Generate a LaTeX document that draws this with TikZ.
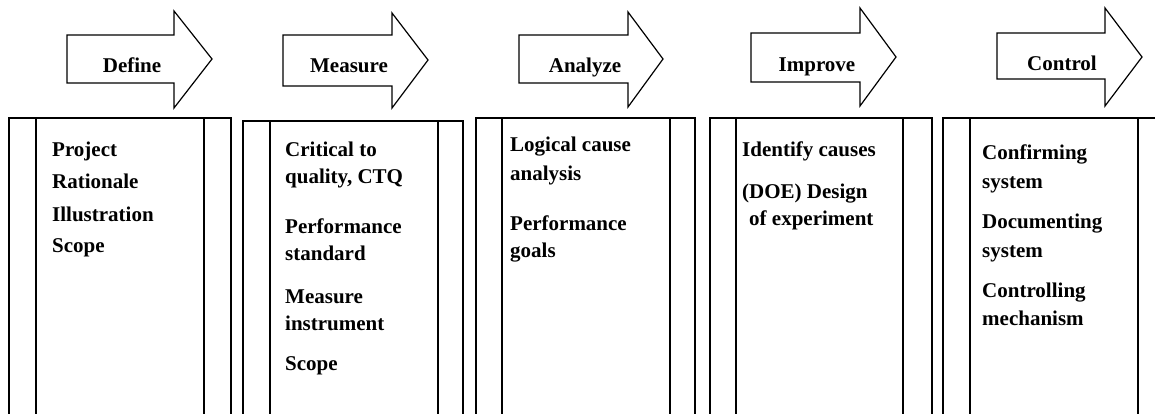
\documentclass[tikz,border=0pt]{standalone}
\usepackage{fontspec}
\setmainfont{Liberation Serif}
\begin{document}
\begin{tikzpicture}[x=1pt,y=-1pt,
  outline/.style={draw=black,line width=1.2pt},
  phase/.style={font=\fontsize{21}{24}\selectfont\bfseries,anchor=base,inner sep=0pt},
  item/.style={font=\fontsize{21}{24}\selectfont\bfseries,anchor=base west,inner sep=0pt}]
\useasboundingbox (0,0) rectangle (1155,414);
\clip (0,0) rectangle (1155,414);
% columns: left, inner-left, inner-right, right, top
\foreach \l/\a/\b/\r/\t in {9/36/204/231/118, 243/270/438/463/121, 476/502/670/695/118, 710/736/903/932/118, 943/970/1138/1162/118}{
  \draw[outline] (\l,420) -- (\l,\t) -- (\r,\t) -- (\r,420);
  \draw[outline] (\a,\t) -- (\a,420);
  \draw[outline] (\b,\t) -- (\b,420);
}
% arrows: body left, body top, body bottom, head x, head top, head bottom, tip x, tip y
\foreach \bl/\bt/\bb/\hx/\ht/\hb/\tx/\ty in {67/35/83/174/11/108/212/59, 283/35/86/392/13/108/428/60, 519/35/83/628/12/107/663/59, 751/33/82/860/8/106/896/57, 997/33/79/1105/8/106/1142/57}{
  \draw[outline,line join=miter] (\bl,\bt) -- (\hx,\bt) -- (\hx,\ht) -- (\tx,\ty) -- (\hx,\hb) -- (\hx,\bb) -- (\bl,\bb) -- cycle;
}
\node[phase] (pdef) at (132,73) {Define};
\node[phase] (pmea) at (349,73) {Measure};
\node[phase] (pana) at (585,73) {Analyze};
\node[phase] (pimp) at (817,72) {Improve};
\node[phase] (pcon) at (1062,71) {Control};
% Define
\node[item] (d1) at (52,157) {Project};
\node[item] (d2) at (52,189) {Rationale};
\node[item] (d3) at (52,221) {Illustration};
\node[item] (d4) at (52,252) {Scope};
% Measure
\node[item] (m1) at (285,157) {Critical to};
\node[item] (m2) at (285,183) {quality, CTQ};
\node[item] (m3) at (285,233) {Performance};
\node[item] (m4) at (285,260) {standard};
\node[item] (m5) at (285,303) {Measure};
\node[item] (m6) at (285,330) {instrument};
\node[item] (m7) at (285,370) {Scope};
% Analyze
\node[item] (a1) at (510,152) {Logical cause};
\node[item] (a2) at (510,180) {analysis};
\node[item] (a3) at (510,230) {Performance};
\node[item] (a4) at (510,257) {goals};
% Improve
\node[item] (i1) at (742,157) {Identify causes};
\node[item] (i2) at (742,198) {(DOE) Design};
\node[item] (i3) at (749,225) {of experiment};
% Control
\node[item] (c1) at (982,160) {Confirming};
\node[item] (c2) at (982,188) {system};
\node[item] (c3) at (982,228) {Documenting};
\node[item] (c4) at (982,257) {system};
\node[item] (c5) at (982,297) {Controlling};
\node[item] (c6) at (982,325) {mechanism};
\end{tikzpicture}
\end{document}
